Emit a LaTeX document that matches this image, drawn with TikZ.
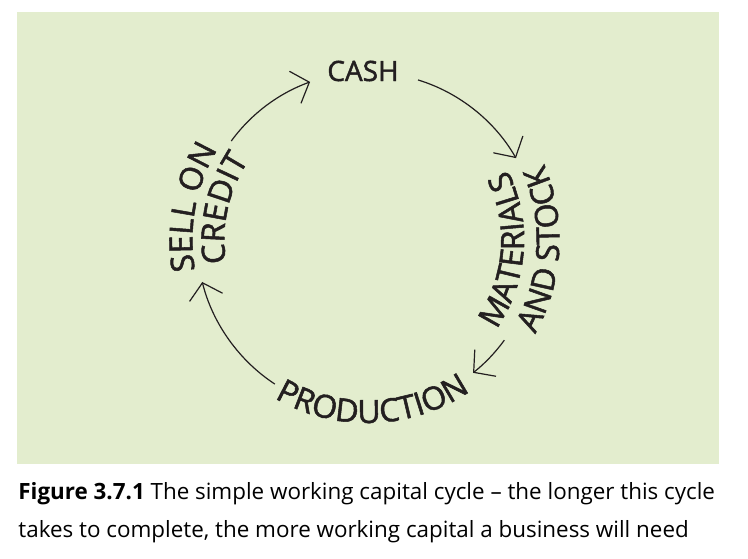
\documentclass[tikz,border=0pt]{standalone}
\usepackage{fontspec}
\setmainfont{Open Sans}
\newfontfamily\stagefamily{Open Sans}[FakeBold=1.6]
\newfontfamily\capfamily{Open Sans}
\usetikzlibrary{arrows.meta, decorations.text, positioning}

\definecolor{panelgreen}{RGB}{227,237,206}
\definecolor{inkgray}{RGB}{35,31,32}
\newcommand{\stagefont}{\stagefamily\fontsize{14}{16}\selectfont}
\newcommand{\curvefont}{\stagefamily\fontsize{16}{18}\selectfont}

\begin{document}
\begin{tikzpicture}[
    x=0.5pt, y=0.5pt,
    panel/.style={fill=panelgreen, draw=none},
    stage/.style={font=\stagefont, text=inkgray, inner sep=0pt},
    curvedstage/.style={
        decorate,
        decoration={text along path, text align=center, text color=inkgray}
    },
    cyclearrow/.style={
        draw=inkgray, line width=0.6pt, looseness=0.87,
        -{Straight Barb[length=7.5pt, width=17pt]}
    },
    caption/.style={font=\capfamily\fontsize{11.2}{19}\selectfont, text=black, inner sep=0pt, anchor=base west}
]

\useasboundingbox (-367,240) rectangle (381,-318);

% ==========================================
% BACKGROUND PANEL
% ==========================================

\fill[panel] (-350,228) rectangle (352,-224);

% ==========================================
% STAGES OF THE CYCLE
% ==========================================

\node[stage] (cash) at (-4,169) {CASH};

% right side, read upwards
\path[curvedstage, decoration={text={|\curvefont|MATERIALS}}]
    (-55:157) arc[start angle=-55, end angle=47, radius=157];
\path[curvedstage, decoration={text={|\curvefont|AND STOCK}}]
    (-52:192.5) arc[start angle=-52, end angle=46, radius=192.5];

% bottom
\path[curvedstage, decoration={text={|\curvefont|PRODUCTION}}]
    (227:183) arc[start angle=227, end angle=317, radius=183];

% left side, read upwards
\path[curvedstage, decoration={text={|\curvefont|SELL ON}}]
    (214:174.6) arc[start angle=214, end angle=124.8, radius=174.6];
\path[curvedstage, decoration={text={|\curvefont|CREDIT}}]
    (213:142.6) arc[start angle=213, end angle=122.2, radius=142.6];

% ==========================================
% ARROWS (clockwise)
% ==========================================

\coordinate (creditOut) at (143.9:168);
\coordinate (cashIn) at (109.8:168);
\coordinate (cashOut) at (72.3:168);
\coordinate (stockIn) at (28.8:170);
\coordinate (stockOut) at (-36.1:170);
\coordinate (prodIn) at (-51.4:170);
\coordinate (prodOut) at (237.4:171);
\coordinate (creditIn) at (194.3:170);

\draw[cyclearrow] (creditOut) to[bend left=17] (cashIn);
\draw[cyclearrow] (cashOut) to[bend left=21.7] (stockIn);
\draw[cyclearrow] (stockOut) to[bend left=7.6] (prodIn);
\draw[cyclearrow] (prodOut) to[bend left=21.5] (creditIn);

% ==========================================
% CAPTION
% ==========================================

\node[caption] (capLineA) at (-349,-259) {\textbf{Figure 3.7.1} The simple working capital cycle – the longer this cycle};
\node[caption] (capLineB) at (-349,-297) {takes to complete, the more working capital a business will need};

\end{tikzpicture}
\end{document}
